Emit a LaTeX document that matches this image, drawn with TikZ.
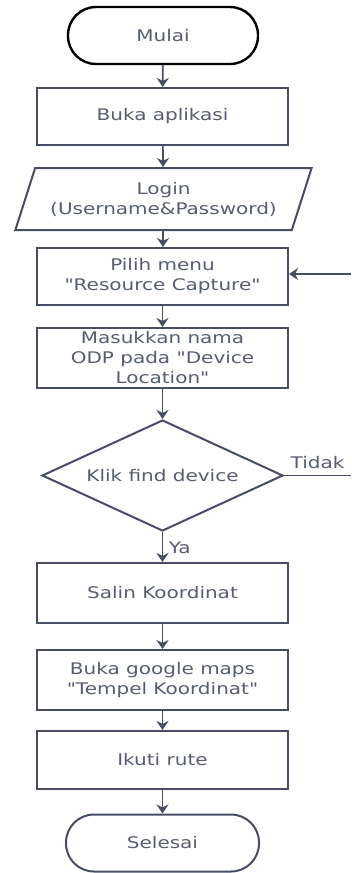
\documentclass[tikz,border=0pt]{standalone}
\usepackage{fontspec}
\setmainfont[FakeStretch=1.25, Ligatures=TeXOff]{DejaVu Sans}
\usetikzlibrary{shapes.geometric,arrows.meta}
\definecolor{linegray}{HTML}{474D63}
\definecolor{textgray}{HTML}{555D70}
\begin{document}
\begin{tikzpicture}[x=1pt, y=-1pt,
	every node/.style={font=\fontsize{16}{20}\selectfont, text=textgray, align=center, line width=2pt},
	proses/.style={draw=linegray, rectangle, minimum width=251pt, minimum height=57pt, inner sep=0pt},
	terminal/.style={draw=linegray, rectangle, rounded corners=28pt, minimum width=193pt, minimum height=57pt},
	masukan/.style={draw=linegray, trapezium, trapezium left angle=63, trapezium right angle=117, trapezium stretches=true, minimum width=297pt, minimum height=62pt, inner sep=0pt},
	keputusan/.style={draw=linegray, diamond, aspect=2.17, minimum width=241pt, minimum height=111pt, inner sep=0pt},
	panah/.style={draw=linegray, line width=1.7pt, -{Stealth[length=9pt, width=12pt]}}]
	\useasboundingbox (0,0) rectangle (351,873);
	\node[terminal, draw=black, line width=2.4pt, minimum width=190pt] (Mulai) at (163, 35.5) {Mulai};
	\node[proses] (Buka aplikasi) at (162.5, 116.5) {Buka aplikasi};
	\node[masukan] (Login) at (163.5, 199) {Login\\(Username\&Password)};
	\node[proses] (Pilih menu) at (162.5, 276.5) {Pilih menu\\"Resource Capture"};
	\node[proses, minimum height=60pt] (Masukkan nama) at (162.5, 358) {Masukkan nama\\ODP pada "Device\\Location"};
	\node[keputusan] (Klik find device) at (162.5, 475.5) {Klik find device};
	\node[proses, minimum height=60pt] (Salin Koordinat) at (162.5, 593) {Salin Koordinat};
	\node[proses, minimum height=60pt] (Buka google maps) at (162.5, 680) {Buka google maps\\"Tempel Koordinat"};
	\node[proses, minimum height=58pt] (Ikuti rute) at (162.5, 760) {Ikuti rute};
	\node[terminal] (Selesai) at (162.5, 843) {Selesai};
	\coordinate (Tidak ujung) at (351, 475.5);
	\coordinate (Balik) at (351, 274);
	\draw[panah] (Mulai) -- (Buka aplikasi);
	\draw[panah] (Buka aplikasi) -- (Login);
	\draw[panah] (Login) -- (Pilih menu);
	\draw[panah] (Pilih menu) -- (Masukkan nama);
	\draw[panah] (Masukkan nama) -- (Klik find device);
	\draw[panah] (Klik find device) -- node[right, xshift=2pt, yshift=-1pt] (Ya) {Ya} (Salin Koordinat);
	\draw[panah] (Salin Koordinat) -- (Buka google maps);
	\draw[panah] (Buka google maps) -- (Ikuti rute);
	\draw[panah] (Ikuti rute) -- (Selesai);
	\draw[draw=linegray, line width=1.4pt] (Klik find device.east) -- node[above, yshift=2pt] (Tidak) {Tidak} (Tidak ujung);
	\draw[panah] (Balik) -- (Pilih menu.east |- Balik);
\end{tikzpicture}
\end{document}
